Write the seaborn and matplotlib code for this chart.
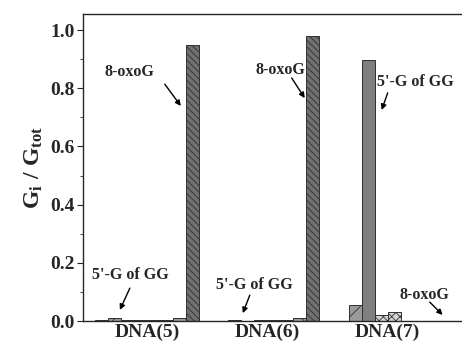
import pandas as pd
import matplotlib
matplotlib.use("Agg")
import matplotlib.pyplot as plt
import seaborn as sns

# data
groups = ["DNA(5)", "DNA(6)", "DNA(7)"]
positions = ["1", "2", "3", "4", "5", "6", "7", "8"]
dna5 = [0.003, 0.009, 0.005, 0.005, 0.005, 0.004, 0.010, 0.948]
dna6 = [0.001, 0.004, 0.001, 0.002, 0.002, 0.005, 0.012, 0.978]
dna7 = [0.000, 0.055, 0.897, 0.022, 0.030, 0.000, 0.000, 0.000]

rows = []
for g, vals in zip(groups, [dna5, dna6, dna7]):
    for p, v in zip(positions, vals):
        rows.append({"DNA": g, "pos": p, "ratio": v})
df = pd.DataFrame(rows)

sns.set_style("ticks")
plt.rcParams["font.family"] = ["Liberation Serif", "DejaVu Serif"]
plt.rcParams["font.weight"] = "bold"
plt.rcParams["hatch.linewidth"] = 0.6
plt.rcParams["mathtext.fontset"] = "custom"
plt.rcParams["mathtext.rm"] = "Liberation Serif:bold"
plt.rcParams["mathtext.bf"] = "Liberation Serif:bold"
plt.rcParams["mathtext.it"] = "Liberation Serif:bold"

faces = ["#808080", "#9a9a9a", "#7f7f7f", "#d4d4d4", "#d4d4d4", "#8a8a8a", "#9c9c9c", "#707070"]
hatches = ["", "//", "", "xxxx", "xxxx", "....", "\\\\", "\\\\\\\\\\"]

fig = plt.figure(figsize=(4.62, 3.47), dpi=100)
ax = fig.add_axes([83 / 462, 26 / 347, 389 / 462, 307 / 347])
sns.barplot(data=df, x="DNA", y="ratio", hue="pos", hue_order=positions,
            palette=faces, width=0.86, edgecolor="#303030", linewidth=0.7,
            saturation=1, legend=False, ax=ax)

for cont, h in zip(ax.containers, hatches):
    for bar in cont:
        bar.set_hatch(h)

ax.set_xlim(-0.53, 2.7)
ax.set_ylim(0, 1.055)
ax.set_yticks([0.0, 0.2, 0.4, 0.6, 0.8, 1.0])
ax.set_yticks([0.1, 0.3, 0.5, 0.7, 0.9], minor=True)
ax.set_yticklabels(["0.0", "0.2", "0.4", "0.6", "0.8", "1.0"], fontsize=14, fontweight="bold")
ax.tick_params(axis="x", length=0, labelsize=14, pad=2)
ax.tick_params(axis="y", direction="out", length=4, width=0.8, pad=2)
ax.tick_params(axis="y", which="minor", direction="out", length=2, width=0.6)
for lab in ax.get_xticklabels():
    lab.set_fontweight("bold")
ax.set_xlabel("")
ax.set_ylabel(r"$\mathbf{G_i\ /\ G_{tot}}$", fontsize=17, labelpad=4)
for s in ["left", "bottom", "top"]:
    ax.spines[s].set_linewidth(1.0)
ax.spines["right"].set_visible(False)

arrow = dict(arrowstyle="-|>", color="black", lw=1.0, mutation_scale=8,
             shrinkA=0, shrinkB=0)
labels = [
    ("8-oxoG", (-0.141, 0.856), (0.149, 0.814), (0.282, 0.739)),
    ("8-oxoG", (1.112, 0.863), (1.203, 0.835), (1.311, 0.766)),
    ("5'-G of GG", (-0.133, 0.158), (-0.141, 0.113), (-0.224, 0.038)),
    ("5'-G of GG", (0.896, 0.124), (0.855, 0.089), (0.797, 0.027)),
    ("5'-G of GG", (2.232, 0.821), (2.0, 0.784), (1.95, 0.725)),
    ("8-oxoG", (2.307, 0.089), (2.349, 0.065), (2.456, 0.021)),
]
for txt, tpos, tail, head in labels:
    ax.text(tpos[0], tpos[1], txt, ha="center", va="center",
            fontsize=11.5, fontweight="bold")
    ax.annotate("", xy=head, xytext=tail, arrowprops=arrow)

fig.savefig("out.png", dpi=100)
